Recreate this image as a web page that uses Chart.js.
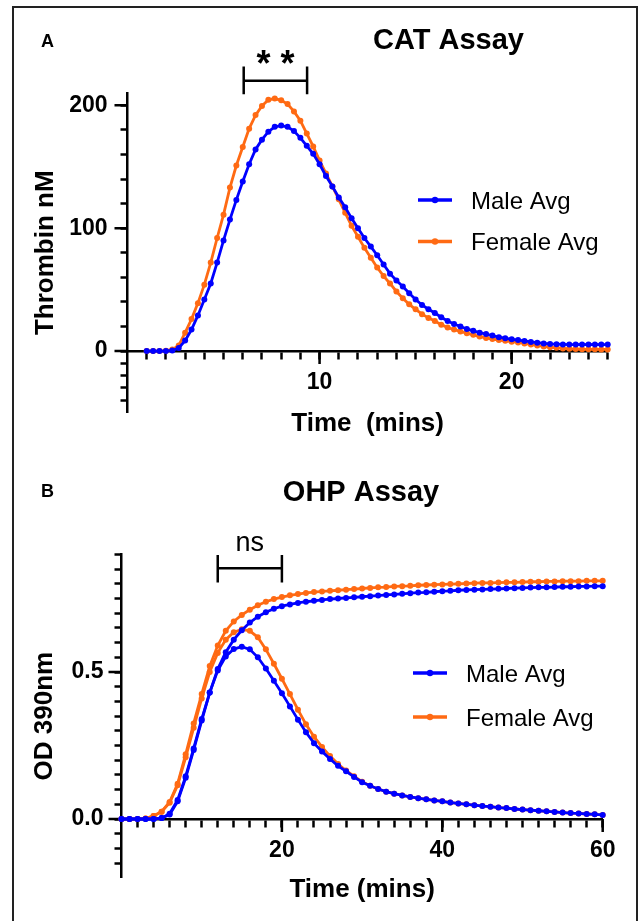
<!DOCTYPE html>
<html>
<head>
<meta charset="utf-8">
<script src="https://cdn.jsdelivr.net/npm/chart.js@4.4.1/dist/chart.umd.min.js"></script>
<style>
  html, body { margin: 0; padding: 0; width: 638px; height: 921px; overflow: hidden; background: #fff; }
  .frame { position: absolute; left: 12px; top: 6px; width: 622px; height: 960px; border: 2px solid #222; border-bottom: none; }
  canvas { position: absolute; left: 0; top: 0; }
</style>
</head>
<body>
<div class="frame"></div>
<canvas id="catChart" width="638" height="980"></canvas>
<canvas id="ohpChart" width="638" height="980"></canvas>
<script>
// Panel A - CAT assay, one reading every 20 s from 1 min
const catStart = 1;
const catStep = 1 / 3;
const catMale = [0, 0, 0, 0, 0.5, 2.5, 8.5, 17.5, 29, 42, 55, 72, 90, 107, 123, 138, 152, 164, 172, 178.5,
  182.5, 183.5, 182.5, 179, 173.5, 167, 160.5, 152, 142.5, 134, 125, 117, 108, 100, 92, 85, 78, 70.5, 63,
  57.5, 52.5, 47, 42, 37.5, 34, 31, 27.5, 24.5, 22, 20, 18, 16.5, 15, 13.8, 12.6, 11.3, 10.5, 9.6, 8.9,
  8.2, 7.4, 6.8, 6.2, 5.8, 5.6, 5.4, 5.3, 5.3, 5.4, 5.3, 5.4, 5.3, 5.3];
const catFemale = [0, 0, 0, 0.3, 1.2, 4.5, 15, 26, 39, 54, 72, 92, 111, 133, 151, 166, 181, 192, 199.5, 204.5,
  205.5, 204, 201, 195, 187.5, 177, 166.5, 155, 144.5, 134, 123.5, 112.5, 102, 93, 84, 76, 68, 61, 55,
  48.5, 43, 38, 34, 30, 27, 24.5, 21.5, 19.2, 17.5, 16, 14.5, 13.2, 11.8, 10.7, 9.8, 9, 8.3, 7.6, 7,
  6.2, 5.3, 4.6, 3.8, 3.1, 2.6, 2.1, 1.8, 1.6, 1.4, 1.4, 1.4, 1.3, 1.3];
const catXTicks = [1, 2, 3, 4, 5, 6, 7, 8, 9, 10, 11, 12, 13, 14, 15, 16, 17, 18, 19, 20, 21, 22, 23, 24, 25];
const catXLabels = [10, 20];
const catYTicks = [-40, -30, -20, -10, 0, 20, 40, 60, 80, 100, 120, 140, 160, 180, 200];
const catYLabels = [0, 100, 200];

// Panel B - OHP assay, one reading per minute from 0
const ohpMaleTotal = [0, 0, 0, 0, 0, 0.003, 0.015, 0.06, 0.14, 0.235, 0.335, 0.43, 0.51, 0.567, 0.61, 0.642,
  0.668, 0.688, 0.703, 0.715, 0.724, 0.73, 0.735, 0.739, 0.742, 0.745, 0.748, 0.75, 0.752, 0.754, 0.756,
  0.758, 0.76, 0.762, 0.764, 0.766, 0.768, 0.77, 0.771, 0.773, 0.775, 0.776, 0.778, 0.779, 0.78, 0.781,
  0.782, 0.783, 0.784, 0.785, 0.786, 0.787, 0.788, 0.788, 0.789, 0.79, 0.79, 0.791, 0.791, 0.792, 0.792];
const ohpMalePeak = [0, 0, 0, 0, 0, 0.003, 0.018, 0.065, 0.145, 0.24, 0.34, 0.43, 0.505, 0.553, 0.578, 0.586,
  0.577, 0.55, 0.512, 0.47, 0.428, 0.383, 0.338, 0.295, 0.258, 0.23, 0.204, 0.181, 0.162, 0.143, 0.125,
  0.113, 0.102, 0.093, 0.086, 0.08, 0.075, 0.071, 0.067, 0.063, 0.06, 0.056, 0.053, 0.05, 0.047, 0.044,
  0.042, 0.039, 0.037, 0.034, 0.032, 0.03, 0.028, 0.026, 0.024, 0.022, 0.02, 0.019, 0.017, 0.016, 0.014];
const ohpFemaleTotal = [0, 0, 0, 0.002, 0.01, 0.025, 0.058, 0.12, 0.22, 0.325, 0.425, 0.52, 0.59, 0.64, 0.672,
  0.694, 0.712, 0.727, 0.739, 0.748, 0.755, 0.761, 0.765, 0.769, 0.772, 0.774, 0.776, 0.778, 0.78, 0.782,
  0.784, 0.786, 0.788, 0.789, 0.791, 0.792, 0.793, 0.795, 0.796, 0.797, 0.798, 0.799, 0.8, 0.801, 0.802,
  0.803, 0.803, 0.804, 0.805, 0.805, 0.806, 0.807, 0.807, 0.808, 0.808, 0.809, 0.809, 0.809, 0.81, 0.81, 0.81];
const ohpFemalePeak = [0, 0, 0, 0.002, 0.01, 0.025, 0.055, 0.115, 0.21, 0.31, 0.41, 0.5, 0.565, 0.61, 0.635,
  0.645, 0.64, 0.618, 0.577, 0.528, 0.477, 0.425, 0.372, 0.322, 0.28, 0.245, 0.214, 0.187, 0.165, 0.145,
  0.127, 0.113, 0.102, 0.093, 0.086, 0.08, 0.075, 0.071, 0.067, 0.063, 0.06, 0.056, 0.053, 0.05, 0.047,
  0.044, 0.042, 0.039, 0.037, 0.034, 0.032, 0.03, 0.028, 0.026, 0.024, 0.022, 0.02, 0.019, 0.017, 0.016, 0.014];
const ohpXTicks = [2, 4, 6, 8, 10, 12, 14, 16, 18, 20, 22, 24, 26, 28, 30, 32, 34, 36, 38, 40, 42, 44, 46, 48,
  50, 52, 54, 56, 58, 60];
const ohpXLabels = [20, 40, 60];
const ohpYTicks = [-0.15, -0.1, -0.05, 0, 0.05, 0.1, 0.15, 0.2, 0.25, 0.3, 0.35, 0.4, 0.45, 0.5, 0.55, 0.6,
  0.65, 0.7, 0.75, 0.8, 0.85, 0.9];
const ohpYLabels = [0, 0.5];

const maleColor = '#0000ff';
const femaleColor = '#ff6a13';
const fontFamily = "'Liberation Sans', Arial, sans-serif";

Chart.defaults.font.family = fontFamily;
Chart.defaults.color = '#000';

function xy(values, start, step) {
  return values.map((v, i) => ({ x: start + i * step, y: v }));
}

function series(label, color, values, start, step, inLegend) {
  return {
    label: label,
    data: xy(values, start, step),
    borderColor: color,
    backgroundColor: color,
    borderWidth: 2.8,
    pointRadius: 3,
    pointBorderWidth: 0,
    pointBackgroundColor: color,
    tension: 0,
    clip: false,
    inLegend: inLegend
  };
}

// longer tick marks at the labelled values (drawn under the data)
const majorTicks = {
  id: 'majorTicks',
  beforeDatasetsDraw(chart, args, o) {
    const { ctx, chartArea } = chart;
    const xs = chart.scales.x, ys = chart.scales.y;
    const axisY = ys.getPixelForValue(0);
    ctx.save();
    ctx.strokeStyle = '#000';
    ctx.lineWidth = 2.5;
    ctx.beginPath();
    o.x.forEach(v => {
      const px = xs.getPixelForValue(v);
      ctx.moveTo(px, axisY);
      ctx.lineTo(px, axisY + 13);
    });
    o.y.forEach(v => {
      const py = ys.getPixelForValue(v);
      ctx.moveTo(chartArea.left, py);
      ctx.lineTo(chartArea.left - 13, py);
    });
    ctx.stroke();
    ctx.restore();
  }
};

// bracket, legend, panel letter and title
const decor = {
  id: 'decor',
  afterDraw(chart, args, o) {
    const ctx = chart.ctx;
    const xs = chart.scales.x, ys = chart.scales.y;
    ctx.save();

    const b = o.bracket;
    const x1 = xs.getPixelForValue(b.from), x2 = xs.getPixelForValue(b.to);
    const by = ys.getPixelForValue(b.y);
    ctx.strokeStyle = '#000';
    ctx.lineWidth = 2.5;
    ctx.beginPath();
    ctx.moveTo(x1, by); ctx.lineTo(x2, by);
    ctx.moveTo(x1, ys.getPixelForValue(b.top)); ctx.lineTo(x1, ys.getPixelForValue(b.bottom));
    ctx.moveTo(x2, ys.getPixelForValue(b.top)); ctx.lineTo(x2, ys.getPixelForValue(b.bottom));
    ctx.stroke();
    ctx.fillStyle = '#000';
    ctx.textAlign = 'center';
    ctx.textBaseline = 'alphabetic';
    ctx.font = b.font;
    ctx.fillText(b.text, (x1 + x2) / 2, by - b.lift);

    // legend
    const lg = o.legend;
    let row = 0;
    chart.data.datasets.forEach(ds => {
      if (!ds.inLegend) return;
      const y = lg.y + row * lg.gap;
      ctx.strokeStyle = ds.borderColor;
      ctx.lineWidth = 3.5;
      ctx.beginPath();
      ctx.moveTo(lg.x, y); ctx.lineTo(lg.x + 34, y);
      ctx.stroke();
      ctx.fillStyle = ds.borderColor;
      ctx.beginPath();
      ctx.arc(lg.x + 17, y, 3.2, 0, Math.PI * 2);
      ctx.fill();
      ctx.fillStyle = '#000';
      ctx.textAlign = 'left';
      ctx.font = '24px ' + fontFamily;
      ctx.fillText(ds.label, lg.x + 53, y + 8.5);
      row++;
    });

    ctx.fillStyle = '#000';
    ctx.font = 'bold 18px ' + fontFamily;
    ctx.textAlign = 'left';
    ctx.fillText(o.letter.text, o.letter.x, o.letter.y);
    ctx.font = 'bold 29px ' + fontFamily;
    ctx.textAlign = 'center';
    ctx.fillText(o.title.text, o.title.x, o.title.y);
    ctx.restore();
  }
};

function axisOptions(c) {
  return {
    x: {
      type: 'linear',
      position: { y: 0 },
      min: c.xMin, max: c.xMax,
      afterBuildTicks: s => { s.ticks = c.xTicks.map(v => ({ value: v })); },
      afterFit: s => { s.height = c.xHeight; },
      ticks: {
        autoSkip: false, maxRotation: 0, padding: 11,
        font: { size: 23, weight: 'bold' },
        callback: v => c.xLabels.includes(v) ? String(v) : ''
      },
      grid: { display: true, drawOnChartArea: false, drawTicks: true, tickLength: 7, tickWidth: 2.5, tickColor: '#000' },
      border: { display: true, color: '#000', width: 2.5 },
      title: { display: true, text: c.xTitle, font: { size: 26, weight: 'bold' }, padding: 0 }
    },
    y: {
      type: 'linear',
      position: 'left',
      min: c.yMin, max: c.yMax,
      afterBuildTicks: s => { s.ticks = c.yTicks.map(v => ({ value: v })); },
      afterFit: s => { s.width = 100; },
      ticks: {
        autoSkip: false, padding: c.yPad,
        font: { size: 23, weight: 'bold' },
        callback: v => c.yLabels.includes(v) ? c.yFormat(v) : ''
      },
      grid: { display: true, drawOnChartArea: false, drawTicks: true, tickLength: 7, tickWidth: 2.5, tickColor: '#000' },
      border: { display: true, color: '#000', width: 2.5 },
      title: { display: true, text: c.yTitle, font: { size: 26, weight: 'bold' }, padding: { top: c.yTitlePad, bottom: 0 } }
    }
  };
}

new Chart(document.getElementById('catChart'), {
  type: 'line',
  data: {
    datasets: [
      series('Male Avg', maleColor, catMale, catStart, catStep, true),
      series('Female Avg', femaleColor, catFemale, catStart, catStep, true)
    ]
  },
  plugins: [majorTicks, decor],
  options: {
    responsive: false,
    animation: false,
    events: [],
    layout: { padding: { left: 27.5, top: 93, right: 30.3, bottom: 567.5 } },
    scales: axisOptions({
      xMin: 0, xMax: 25, xTicks: catXTicks, xLabels: catXLabels, xHeight: 88, xTitle: 'Time  (mins)',
      yMin: -50, yMax: 210, yTicks: catYTicks, yLabels: catYLabels, yPad: 13, yTitlePad: 2.5,
      yFormat: v => String(v), yTitle: 'Thrombin nM'
    }),
    plugins: {
      legend: { display: false },
      tooltip: { enabled: false },
      majorTicks: { x: catXLabels, y: catYLabels },
      decor: {
        bracket: { from: 6.05, to: 9.35, y: 220, top: 231.5, bottom: 209, text: '* *', font: 'bold 36px ' + fontFamily, lift: 5 },
        legend: { x: 418, y: 200, gap: 41.5 },
        letter: { text: 'A', x: 41, y: 47 },
        title: { text: 'CAT Assay', x: 448.5, y: 49 }
      }
    }
  }
});

new Chart(document.getElementById('ohpChart'), {
  type: 'line',
  data: {
    datasets: [
      series('Male Avg', maleColor, ohpMaleTotal, 0, 1, true),
      series('Male Avg', maleColor, ohpMalePeak, 0, 1, false),
      series('Female Avg', femaleColor, ohpFemaleTotal, 0, 1, true),
      series('Female Avg', femaleColor, ohpFemalePeak, 0, 1, false)
    ]
  },
  plugins: [majorTicks, decor],
  options: {
    responsive: false,
    animation: false,
    events: [],
    layout: { padding: { left: 21.5, top: 554.4, right: 35.3, bottom: 102.2 } },
    scales: axisOptions({
      xMin: 0, xMax: 60, xTicks: ohpXTicks, xLabels: ohpXLabels, xHeight: 86, xTitle: 'Time (mins)',
      yMin: -0.2, yMax: 0.9, yTicks: ohpYTicks, yLabels: ohpYLabels, yPad: 11, yTitlePad: 8,
      yFormat: v => v.toFixed(1), yTitle: 'OD 390nm'
    }),
    plugins: {
      legend: { display: false },
      tooltip: { enabled: false },
      majorTicks: { x: ohpXLabels, y: ohpYLabels },
      decor: {
        bracket: { from: 12, to: 20, y: 0.853, top: 0.898, bottom: 0.804, text: 'ns', font: '27px ' + fontFamily, lift: 17 },
        legend: { x: 413, y: 673, gap: 44 },
        letter: { text: 'B', x: 41, y: 497 },
        title: { text: 'OHP Assay', x: 361, y: 501 }
      }
    }
  }
});
</script>
</body>
</html>
